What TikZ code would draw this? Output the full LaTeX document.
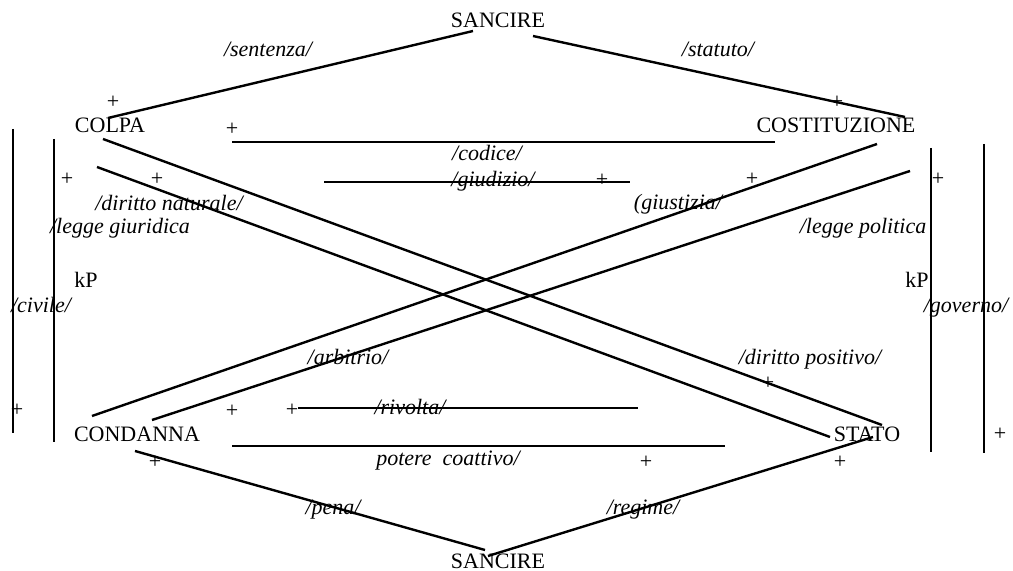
\documentclass[tikz,border=0pt]{standalone}
\usepackage{fontspec}
\setmainfont{Liberation Serif}
\begin{document}
\begin{tikzpicture}[x=0.5pt,y=-0.5pt,
  lbl/.style={anchor=base,inner sep=0pt,font=\fontsize{11}{13}\selectfont},
  itl/.style={lbl,font=\fontsize{11}{13}\selectfont\itshape},
  pl/.style={anchor=center,inner sep=0pt,font=\fontsize{11}{13}\selectfont},
  ln/.style={line width=1.2pt}]
\useasboundingbox (0,0) rectangle (1013,571);
% main terms
\node[lbl] (st) at (498,28) {SANCIRE};
\node[lbl] (colpa) at (110,133) {COLPA};
\node[lbl] (cost) at (836,133) {COSTITUZIONE};
\node[lbl] (cond) at (137,442) {CONDANNA};
\node[lbl] (stato) at (867,442) {STATO};
\node[lbl] (sb) at (498,569) {SANCIRE};
% labels
\node[itl] (sent) at (268,57) {/sentenza/};
\node[itl] (stat) at (718,57) {/statuto/};
\node[itl] (codice) at (487,161) {/codice/};
\node[itl] (giud) at (493,187) {/giudizio/};
\node[itl] (dnat) at (169,211) {/diritto naturale/};
\node[itl] (lgiur) at (120,234) {/legge giuridica};
\node[itl] (giust) at (678,210) {(giustizia/};
\node[itl] (lpol) at (863,234) {/legge politica};
\node[lbl] (kpl) at (86,288) {kP};
\node[lbl] (kpr) at (917,288) {kP};
\node[itl] (civ) at (41,313) {/civile/};
\node[itl] (gov) at (966,313) {/governo/};
\node[itl] (arb) at (348,365) {/arbitrio/};
\node[itl] (dpos) at (810,365) {/diritto positivo/};
\node[itl] (riv) at (410,415) {/rivolta/};
\node[itl] (pot) at (448,466) {potere\ \ coattivo/};
\node[itl] (pena) at (333,515) {/pena/};
\node[itl] (reg) at (643,515) {/regime/};
% plus signs
\node[pl] (p1) at (113,102) {+};
\node[pl] (p2) at (232,129) {+};
\node[pl] (p3) at (837,102) {+};
\node[pl] (p4) at (67,179) {+};
\node[pl] (p5) at (157,179) {+};
\node[pl] (p6) at (602,180) {+};
\node[pl] (p7) at (752,179) {+};
\node[pl] (p8) at (938,179) {+};
\node[pl] (p9) at (17,410) {+};
\node[pl] (p10) at (232,411) {+};
\node[pl] (p11) at (292,410) {+};
\node[pl] (p12) at (768,383) {+};
\node[pl] (p13) at (1000,434) {+};
\node[pl] (p14) at (155,462) {+};
\node[pl] (p15) at (646,462) {+};
\node[pl] (p16) at (840,462) {+};
% connector end points
\coordinate (stL) at (473,31);
\coordinate (stR) at (533,36);
\coordinate (colT) at (108,118);
\coordinate (cosT) at (905,117);
\coordinate (h1a) at (232,142);
\coordinate (h1b) at (775,142);
\coordinate (h2a) at (324,182);
\coordinate (h2b) at (630,182);
\coordinate (colA) at (103,139);
\coordinate (statA) at (882,425);
\coordinate (colB) at (97,167);
\coordinate (statB) at (830,437);
\coordinate (cosC) at (877,144);
\coordinate (conC) at (92,416);
\coordinate (cosD) at (910,171);
\coordinate (conD) at (152,420);
\coordinate (h3a) at (298,408);
\coordinate (h3b) at (638,408);
\coordinate (h4a) at (232,446);
\coordinate (h4b) at (725,446);
\coordinate (conE) at (135,451);
\coordinate (sbL) at (485,550);
\coordinate (statE) at (873,437);
\coordinate (sbR) at (488,556);
\coordinate (v1a) at (13,129);
\coordinate (v1b) at (13,433);
\coordinate (v2a) at (54,139);
\coordinate (v2b) at (54,442);
\coordinate (v3a) at (931,148);
\coordinate (v3b) at (931,452);
\coordinate (v4a) at (984,144);
\coordinate (v4b) at (984,453);
% connectors
\draw[ln] (stL) -- (colT);
\draw[ln] (stR) -- (cosT);
\draw[ln] (h1a) -- (h1b);
\draw[ln] (h2a) -- (h2b);
\draw[ln] (colA) -- (statA);
\draw[ln] (colB) -- (statB);
\draw[ln] (cosC) -- (conC);
\draw[ln] (cosD) -- (conD);
\draw[ln] (h3a) -- (h3b);
\draw[ln] (h4a) -- (h4b);
\draw[ln] (conE) -- (sbL);
\draw[ln] (statE) -- (sbR);
\draw[ln] (v1a) -- (v1b);
\draw[ln] (v2a) -- (v2b);
\draw[ln] (v3a) -- (v3b);
\draw[ln] (v4a) -- (v4b);
\end{tikzpicture}
\end{document}
